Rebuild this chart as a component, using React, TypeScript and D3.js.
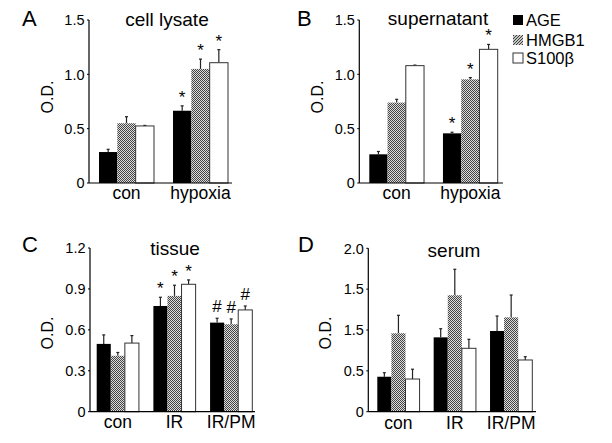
import React from "react";
import * as d3 from "d3";

const seriesNames = ["AGE", "HMGB1", "S100β"];
const catsAB = ["con", "hypoxia"];
const catsCD = ["con", "IR", "IR/PM"];

// panel A: cell lysate (rows = category, cols = series)
const lysateMean = [[0.285, 0.55, 0.525], [0.665, 1.05, 1.107]];
const lysateErr = [[0.025, 0.06, 0.005], [0.045, 0.09, 0.12]];
const lysateMarks = [["", "", ""], ["*", "*", "*"]];

// panel B: supernatant
const superMean = [[0.264, 0.74, 1.08], [0.457, 0.954, 1.23]];
const superErr = [[0.026, 0.03, 0.005], [0.01, 0.016, 0.045]];
const superMarks = [["", "", ""], ["*", "*", "*"]];

// panel C: tissue
const tissueMean = [[0.497, 0.41, 0.503], [0.775, 0.849, 0.934], [0.653, 0.641, 0.746]];
const tissueErr = [[0.066, 0.024, 0.055], [0.064, 0.078, 0.032], [0.032, 0.039, 0.029]];
const tissueMarks = [["", "", ""], ["*", "*", "*"], ["#", "#", "#"]];

// panel D: serum
const serumMean = [[0.428, 0.96, 0.4], [0.91, 1.425, 0.776], [0.988, 1.155, 0.633]];
const serumErr = [[0.049, 0.22, 0.12], [0.106, 0.318, 0.11], [0.183, 0.273, 0.04]];
const serumMarks = [["", "", ""], ["", "", ""], ["", "", ""]];

const ticksAB = [0, 0.5, 1.0, 1.5];
const tickLabelsAB = ["0", "0.5", "1.0", "1.5"];
const ticksC = [0, 0.3, 0.6, 0.9, 1.2];
const tickLabelsC = ["0", "0.3", "0.6", "0.9", "1.2"];
const ticksD = [0, 0.5, 1.0, 1.5, 2.0];
const tickLabelsD = ["0", "0.5", "1.5", "1.5", "2.0"];

const FONT = "'Liberation Sans', Arial, Helvetica, sans-serif";

type PanelProps = {
  letter: string;
  title: string;
  cats: string[];
  mean: number[][];
  err: number[][];
  marks: string[][];
  ticks: number[];
  tickLabels: string[];
  yMax: number;
  axisX: number;
  axisEnd: number;
  y0: number;
  yTop: number;
  barStart: number;
  barEnd: number;
  padInner: number;
  letterX: number;
  letterY: number;
  titleX: number;
  titleY: number;
  odX: number;
  odY: number;
  catY: number;
};

function fillFor(i: number) {
  if (i === 0) return "#000";
  if (i === 1) return "url(#hatchBar)";
  return "#fff";
}

function Panel(p: PanelProps) {
  const y = d3.scaleLinear().domain([0, p.yMax]).range([p.y0, p.yTop]);
  const x = d3.scaleBand<string>().domain(p.cats).range([p.barStart, p.barEnd]).paddingInner(p.padInner).paddingOuter(0);
  const xs = d3.scaleBand<string>().domain(seriesNames).range([0, x.bandwidth()]).padding(0);
  return (
    <g>
      <text x={p.letterX} y={p.letterY} fontSize={22} fontFamily={FONT}>{p.letter}</text>
      <text x={p.titleX} y={p.titleY} fontSize={19} fontFamily={FONT} textAnchor="middle">{p.title}</text>
      <text transform={`translate(${p.odX},${p.odY}) rotate(-90)`} fontSize={16} fontFamily={FONT} textAnchor="middle">O.D.</text>
      {p.ticks.map((t, i) => (
        <g key={"t" + i}>
          <line x1={p.axisX - 2} x2={p.axisX} y1={y(t)} y2={y(t)} stroke="#000" strokeWidth={1} />
          <text x={p.axisX - 4.5} y={y(t)} dy="0.36em" fontSize={14.5} fontFamily={FONT} textAnchor="end">{p.tickLabels[i]}</text>
        </g>
      ))}
      {p.cats.map((c, ci) => (
        <g key={c}>
          {seriesNames.map((s, si) => {
            const bx = (x(c) as number) + (xs(s) as number);
            const bw = xs.bandwidth();
            const v = p.mean[ci][si];
            const e = p.err[ci][si];
            const cx = bx + bw / 2;
            const top = y(v + e);
            const m = p.marks[ci][si];
            return (
              <g key={s}>
                <line x1={cx} x2={cx} y1={y(v)} y2={top} stroke="#222" strokeWidth={1.2} />
                <line x1={cx - 1.5} x2={cx + 1.5} y1={top} y2={top} stroke="#222" strokeWidth={1.2} />
                <rect x={bx} y={y(v)} width={bw} height={p.y0 - y(v)} fill={fillFor(si)}
                  stroke={si === 2 ? "#333" : "none"} strokeWidth={1} />
                {m && (
                  <text x={cx} y={top - 12 + (m === "*" ? 9 : 6)} fontSize={17} fontFamily={FONT} textAnchor="middle">{m}</text>
                )}
              </g>
            );
          })}
          <text x={(x(c) as number) + x.bandwidth() / 2} y={p.catY} fontSize={17.5} fontFamily={FONT} textAnchor="middle">{c}</text>
        </g>
      ))}
      <line x1={p.axisX} x2={p.axisX} y1={p.yTop} y2={p.y0} stroke="#000" strokeWidth={1.2} />
      <line x1={p.axisX} x2={p.axisEnd} y1={p.y0} y2={p.y0} stroke="#000" strokeWidth={1.2} />
    </g>
  );
}

export default function App() {
  const legendY = [15, 35, 53];
  return (
    <svg width={612} height={443} style={{ position: "absolute", left: 0, top: 0, background: "#fff" }}>
      <defs>
        <pattern id="hatchBar" patternUnits="userSpaceOnUse" width={2} height={2}>
          <rect width={2} height={2} fill="#dcdcdc" />
          <rect x={0} y={0} width={1} height={1} fill="#444" />
          <rect x={1} y={1} width={1} height={1} fill="#444" />
        </pattern>
        <pattern id="hatchLeg" patternUnits="userSpaceOnUse" width={3} height={3}>
          <rect width={3} height={3} fill="#fff" />
          <path d="M-1,1 L1,-1 M0,3 L3,0 M2,4 L4,2" stroke="#333" strokeWidth={1.1} />
        </pattern>
      </defs>
      <rect width={612} height={443} fill="#fff" />
      <Panel letter="A" title="cell lysate" cats={catsAB} mean={lysateMean} err={lysateErr} marks={lysateMarks}
        ticks={ticksAB} tickLabels={tickLabelsAB} yMax={1.5} axisX={89} axisEnd={232} y0={183} yTop={20}
        barStart={99} barEnd={228} padInner={0.257} letterX={22} letterY={26} titleX={167} titleY={26}
        odX={53} odY={97} catY={199} />
      <Panel letter="B" title="supernatant" cats={catsAB} mean={superMean} err={superErr} marks={superMarks}
        ticks={ticksAB} tickLabels={tickLabelsAB} yMax={1.5} axisX={359.3} axisEnd={503} y0={183} yTop={20}
        barStart={369.3} barEnd={497.7} padInner={0.257} letterX={297} letterY={26} titleX={438} titleY={25}
        odX={322.7} odY={97} catY={199} />
      <Panel letter="C" title="tissue" cats={catsCD} mean={tissueMean} err={tissueErr} marks={tissueMarks}
        ticks={ticksC} tickLabels={tickLabelsC} yMax={1.2} axisX={90} axisEnd={255} y0={411.7} yTop={248}
        barStart={96.7} barEnd={252.3} padInner={0.255} letterX={22} letterY={252} titleX={175} titleY={255}
        odX={53} odY={333} catY={428} />
      <Panel letter="D" title="serum" cats={catsCD} mean={serumMean} err={serumErr} marks={serumMarks}
        ticks={ticksD} tickLabels={tickLabelsD} yMax={2.0} axisX={368.3} axisEnd={536} y0={411.7} yTop={248.3}
        barStart={377.3} barEnd={532.3} padInner={0.25} letterX={298} letterY={252} titleX={454} titleY={256.7}
        odX={331} odY={333} catY={429} />
      {seriesNames.map((s, i) => (
        <g key={s}>
          <rect x={513} y={legendY[i]} width={10} height={10}
            fill={i === 0 ? "#000" : i === 1 ? "url(#hatchLeg)" : "#fff"}
            stroke={i === 2 ? "#333" : "none"} strokeWidth={1} />
          <text x={526} y={legendY[i] + 10.5} fontSize={16.5} fontFamily={FONT}>{s}</text>
        </g>
      ))}
    </svg>
  );
}
